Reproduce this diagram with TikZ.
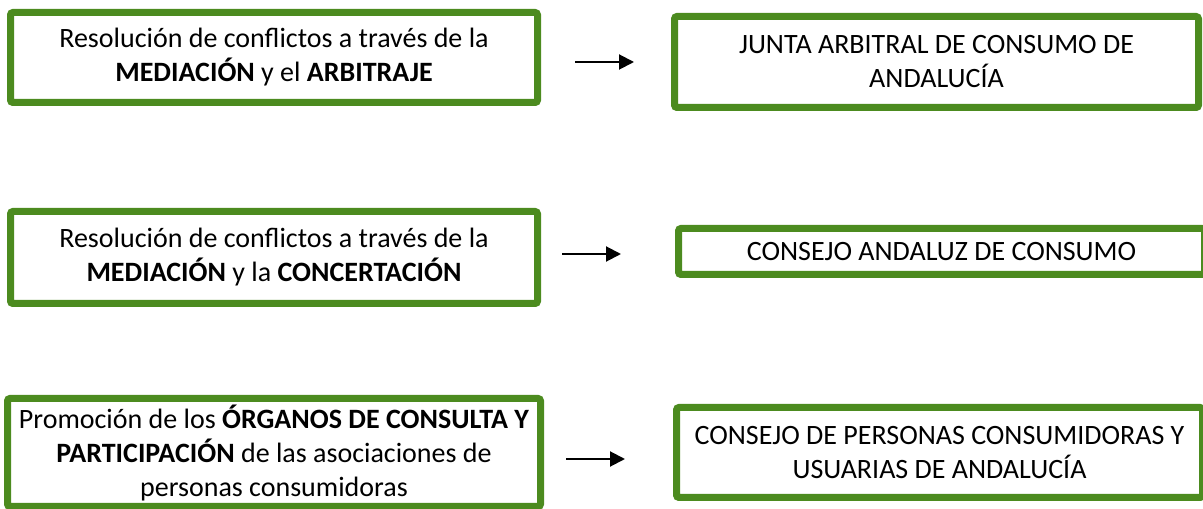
\documentclass[tikz,border=0pt]{standalone}
\usepackage{fontspec}
\setmainfont{Carlito}
\usetikzlibrary{arrows.meta}
\definecolor{boxgreen}{RGB}{76,139,31}
\tikzset{
  gbox/.style={draw=boxgreen, line width=7pt, rounded corners=2.5pt, fill=white,
    inner sep=0pt, align=center, font=\fontsize{28}{34}\selectfont},
  arr/.style={line width=2pt, -{Triangle[length=15pt,width=15pt]}}
}
\begin{document}
\begin{tikzpicture}[x=1pt,y=1pt]
\useasboundingbox (0,0) rectangle (1203,509);
% y_tikz = 509 - y_img
\node[gbox, minimum width=527pt, minimum height=90pt] (b1) at (274,451.5)
  {Resolución de conflictos a través de la\\\textbf{MEDIACIÓN} y el \textbf{ARBITRAJE}};
\node[gbox, minimum width=524pt, minimum height=91pt] (b2) at (936.5,447)
  {JUNTA ARBITRAL DE CONSUMO DE\\ANDALUCÍA};
\node[gbox, minimum width=527pt, minimum height=92pt] (b3) at (274,251.5)
  {Resolución de conflictos a través de la\\\textbf{MEDIACIÓN} y la \textbf{CONCERTACIÓN}};
\node[gbox, minimum width=526pt, minimum height=46pt] (b4) at (941.5,257.5)
  {CONSEJO ANDALUZ DE CONSUMO};
\node[gbox, minimum width=533pt, minimum height=108pt] (b5) at (274,56.5)
  {Promoción de los \textbf{ÓRGANOS DE CONSULTA Y}\\\textbf{PARTICIPACIÓN} de las asociaciones de\\personas consumidoras};
\node[gbox, minimum width=526pt, minimum height=90pt] (b6) at (939.5,56.5)
  {CONSEJO DE PERSONAS CONSUMIDORAS Y\\USUARIAS DE ANDALUCÍA};
\coordinate (a1s) at (575,447);
\coordinate (a1e) at (634,447);
\coordinate (a2s) at (562,255);
\coordinate (a2e) at (621,255);
\coordinate (a3s) at (566,50);
\coordinate (a3e) at (625,50);
\draw[arr] (a1s) -- (a1e);
\draw[arr] (a2s) -- (a2e);
\draw[arr] (a3s) -- (a3e);
\end{tikzpicture}
\end{document}
